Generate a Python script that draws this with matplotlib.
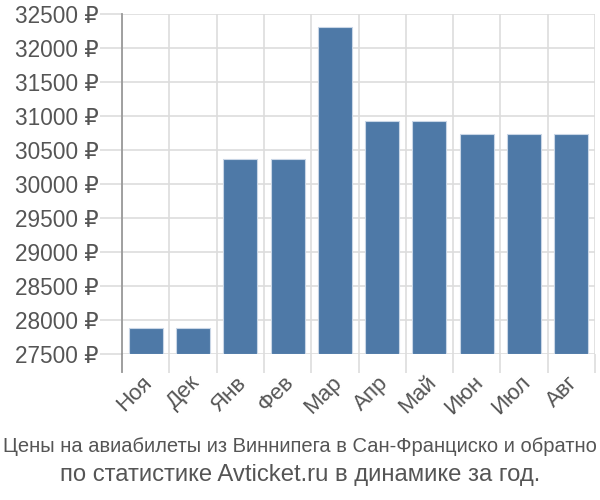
import matplotlib
matplotlib.use("Agg")
import matplotlib.pyplot as plt
import numpy as np
from matplotlib.ticker import FixedLocator
import matplotlib.transforms as mtransforms

months = ["Ноя", "Дек", "Янв", "Фев", "Мар", "Апр", "Май", "Июн", "Июл", "Авг"]
prices = [27885, 27885, 30370, 30370, 32305, 30925, 30925, 30740, 30740, 30740]
yticks = [27500, 28000, 28500, 29000, 29500, 30000, 30500, 31000, 31500, 32000, 32500]
ytick_labels = [f"{v} ₽" for v in yticks]
title_line1 = "Цены на авиабилеты из Виннипега в Сан-Франциско и обратно"
title_line2 = "по статистике Avticket.ru в динамике за год."

plt.rcParams['font.family'] = ['Liberation Sans', 'DejaVu Sans']

fig = plt.figure(figsize=(6, 5), dpi=100)
ax = fig.add_axes([122/600, 1-354/500, 473/600, 340/500])

x = np.arange(len(months))
ax.bar(x, [p - 27500 for p in prices], bottom=27500, width=0.72,
       color="#4e79a7", edgecolor="#c9d6e6", linewidth=0.8, zorder=3)

ax.set_xlim(-0.5, len(months) - 0.5)
ax.set_ylim(27500, 32500)

ax.set_yticks(yticks)
ax.set_yticklabels(ytick_labels)
ax.set_xticks(x)
ax.set_xticklabels(months, rotation=45, ha="right", rotation_mode="anchor")
ax.xaxis.set_minor_locator(FixedLocator(np.arange(-0.5, len(months), 1.0)))

ax.tick_params(axis="y", which="major", length=16, width=1.2, color="#dddddd",
               labelsize=16.3, labelcolor="#555555", pad=1)
ax.tick_params(axis="x", which="major", length=0, labelsize=16,
               labelcolor="#555555", pad=13)
ax.tick_params(axis="x", which="minor", length=13.5, width=1.2, color="#dddddd")

offset = mtransforms.ScaledTranslation(-4/100, 0, fig.dpi_scale_trans)
for lbl in ax.get_xticklabels():
    lbl.set_transform(lbl.get_transform() + offset)

ax.grid(axis="y", which="major", color="#dddddd", linewidth=1.2, zorder=0)
ax.grid(axis="x", which="minor", color="#dddddd", linewidth=1.2, zorder=0)
ax.set_axisbelow(True)

for s in ["top", "right", "bottom"]:
    ax.spines[s].set_visible(False)
ax.spines["left"].set_color("#999999")
ax.spines["left"].set_linewidth(1.3)
ax.plot([-0.5, -0.5], [27500 - 18 / 340 * 5000, 27500], color="#999999",
        linewidth=1.3, clip_on=False, zorder=4)

fig.text(0.5, 1 - 446/500, title_line1, ha="center", va="center",
         fontsize=14.5, color="#555555")
fig.text(0.5, 1 - 475/500, title_line2, ha="center", va="center",
         fontsize=17.2, color="#555555")

fig.savefig("out.png", dpi=100)
